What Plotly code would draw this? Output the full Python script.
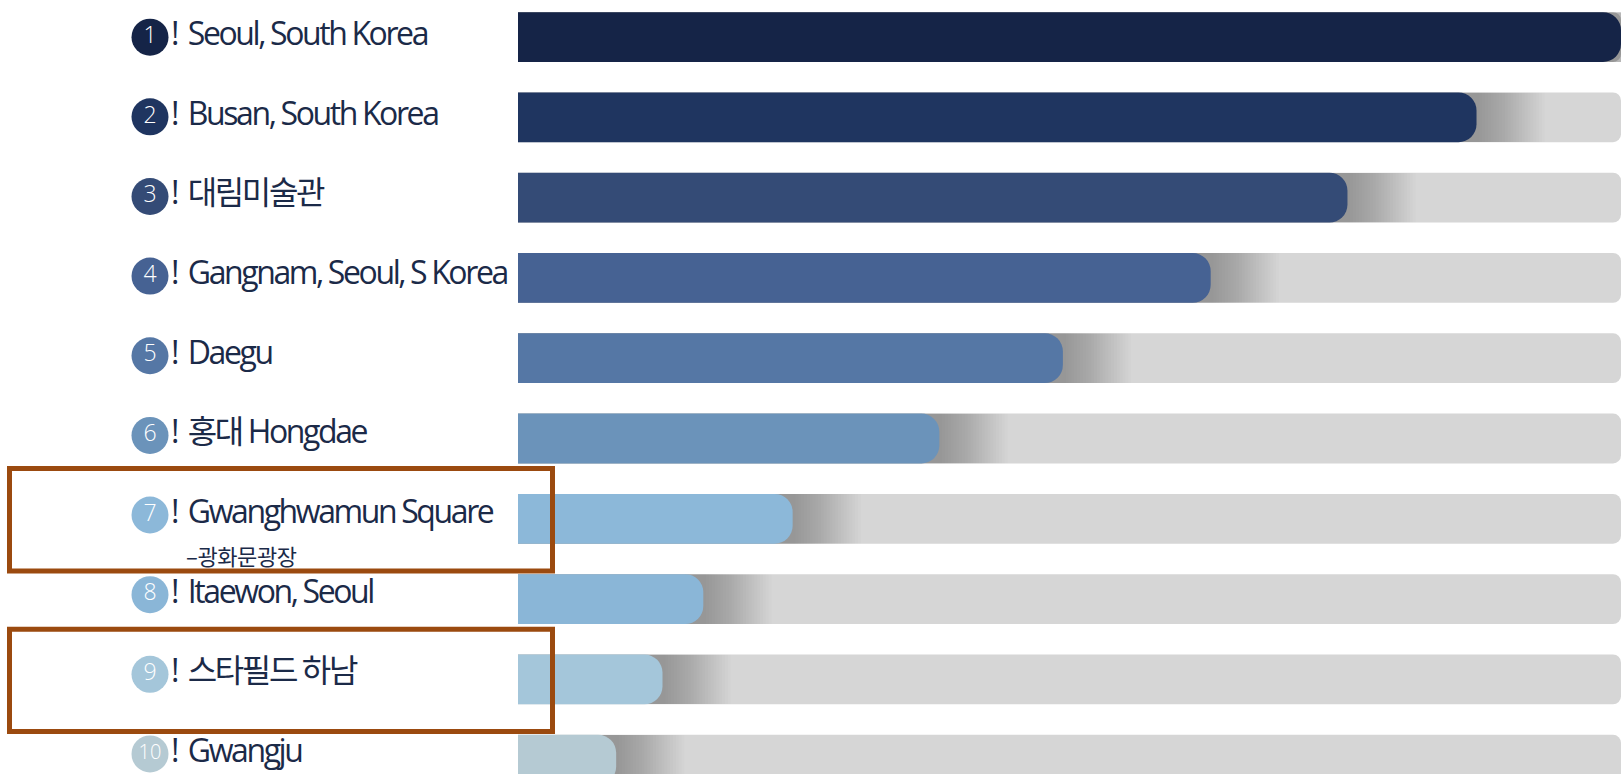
import plotly.graph_objects as go

# ---------------- data ----------------
ranks = [1, 2, 3, 4, 5, 6, 7, 8, 9, 10]
places = [
    "Seoul, South Korea",
    "Busan, South Korea",
    "대림미술관",
    "Gangnam, Seoul, S Korea",
    "Daegu",
    "홍대 Hongdae",
    "Gwanghwamun Square",
    "Itaewon, Seoul",
    "스타필드 하남",
    "Gwangju",
]
scores = [100, 86.9, 75.2, 62.8, 49.4, 38.2, 24.9, 16.8, 13.1, 8.9]
subtitle_rank = 7
subtitle_text = "–광화문광장"
highlighted_ranks = [7, 9]

# ---------------- style ----------------
bar_colors = ["#152447", "#1f3560", "#344b76", "#466293", "#5577a5",
              "#6b93ba", "#8cb8d9", "#8ab6d7", "#a4c6da", "#b5cad3"]
track_color = "#d6d6d6"
text_color = "#1b2a48"
box_color = "#9b4a0f"
W, H = 1621, 774
bar_left_px = 518
bar_width = 0.62
circle_x = 150
label_x = 171
n_shadow = 24
shadow_span = 6.2          # in x-units (~68 px)
bar_yrange = [10.178, 0.539]
label_yrange = [10.252, 0.533]

fig = go.Figure()

# background tracks (main subplot)
fig.add_trace(go.Bar(
    x=[100] * len(ranks), y=ranks, orientation="h", width=bar_width,
    marker=dict(color=track_color, cornerradius=8, line=dict(width=0)),
    hoverinfo="skip", xaxis="x", yaxis="y"))

# soft shadow to the right of each bar (own overlay subplot)
for i in range(n_shadow):
    d = shadow_span * (n_shadow - i) / n_shadow
    fig.add_trace(go.Bar(
        x=[s + d for s in scores], y=ranks, orientation="h", width=bar_width,
        marker=dict(color="rgba(0,0,0,0.0105)", line=dict(width=0)),
        hoverinfo="skip", xaxis="x", yaxis="y2"))

# value bars (own overlay subplot so their ends get rounded)
fig.add_trace(go.Bar(
    x=scores, y=ranks, orientation="h", width=bar_width,
    marker=dict(color=bar_colors, cornerradius=18, line=dict(width=0)),
    hoverinfo="skip", xaxis="x", yaxis="y3"))

# rank circles
fig.add_trace(go.Scatter(
    x=[circle_x] * len(ranks), y=ranks, mode="markers+text",
    marker=dict(size=37, color=bar_colors, line=dict(width=0)),
    text=[str(r) for r in ranks], textposition="middle center",
    textfont=dict(family="Open Sans", size=[23] * 9 + [20], color="white", weight=300),
    cliponaxis=False, hoverinfo="skip", xaxis="x2", yaxis="y4"))

# labels
fig.add_trace(go.Scatter(
    x=[label_x] * len(ranks), y=ranks, mode="text",
    text=[f'! <span style="letter-spacing:-2.4px">{p}</span>' for p in places],
    textposition="middle right",
    textfont=dict(family="Open Sans, Noto Sans CJK KR", size=32, color=text_color),
    cliponaxis=False, hoverinfo="skip", xaxis="x2", yaxis="y4"))

# subtitle for Gwanghwamun
fig.add_annotation(
    x=184, y=subtitle_rank, xref="x2", yref="y4", yshift=-40,
    text=f'<span style="letter-spacing:-0.4px">{subtitle_text}</span>',
    showarrow=False, xanchor="left", yanchor="middle",
    font=dict(family="Noto Sans CJK KR", size=22, color=text_color))

# highlight boxes
for r in highlighted_ranks:
    fig.add_shape(type="rect", xref="paper", yref="y",
                  x0=9.5 / W, x1=552.5 / W, y0=r - 0.625, y1=r + 0.65,
                  line=dict(color=box_color, width=5), fillcolor="rgba(0,0,0,0)",
                  layer="above")

fig.update_layout(
    width=W, height=H, autosize=False,
    margin=dict(l=0, r=0, t=0, b=0, pad=0),
    paper_bgcolor="white", plot_bgcolor="white",
    barmode="overlay", showlegend=False,
    xaxis=dict(domain=[bar_left_px / W, 1], range=[0, 100], visible=False, fixedrange=True),
    xaxis2=dict(domain=[0, bar_left_px / W], range=[0, bar_left_px], visible=False,
                anchor="y4", fixedrange=True),
    yaxis=dict(range=bar_yrange, visible=False, fixedrange=True),
    yaxis2=dict(range=bar_yrange, visible=False, fixedrange=True, overlaying="y", anchor="x"),
    yaxis3=dict(range=bar_yrange, visible=False, fixedrange=True, overlaying="y", anchor="x"),
    yaxis4=dict(range=label_yrange, visible=False, fixedrange=True, overlaying="y", anchor="x2"),
)

fig.write_html("out.html", config={"displayModeBar": False},
               post_script="document.body.style.margin='0';document.body.style.overflow='hidden';")
